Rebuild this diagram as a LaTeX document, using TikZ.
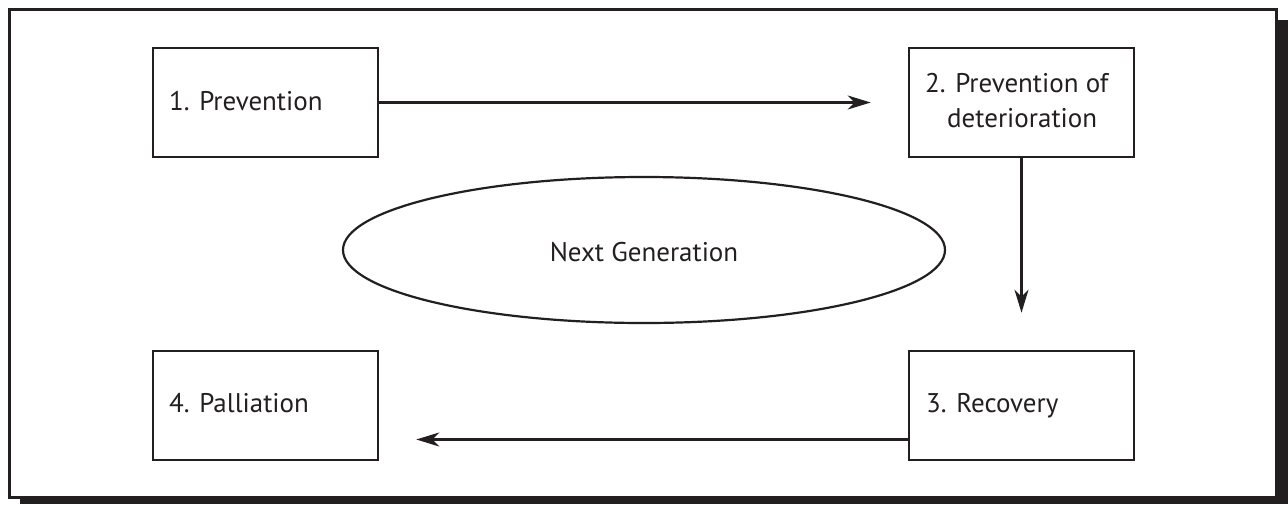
\documentclass[tikz,border=0pt]{standalone}
\usepackage{fontspec}
\setmainfont{PT Sans}
\usetikzlibrary{arrows.meta,shapes.geometric}
\definecolor{ink}{HTML}{231F20}
\tikzset{
  boxnode/.style={draw=ink,line width=2.6pt,minimum width=225pt,minimum height=109pt,inner sep=0pt,fill=white},
  lbl/.style={anchor=base west,inner sep=0pt,text=ink,font=\fontsize{27pt}{33pt}\selectfont},
  arr/.style={draw=ink,line width=2.2pt,-{Stealth[length=23pt,width=14pt,inset=7pt]},shorten >=37pt},
}
\begin{document}
\begin{tikzpicture}[x=1pt,y=-1pt]
\useasboundingbox (0,0) rectangle (1288,504);
% frame with shadow
\fill[ink] (20,20) rectangle (1288,504);
\draw[ink,line width=3pt,fill=white] (9.5,9.5) rectangle (1276.5,497);
% boxes
\node[boxnode] (b1) at (265.5,102.5) {};
\node[boxnode] (b2) at (1021.5,102.5) {};
\node[boxnode] (b3) at (1021.5,405.5) {};
\node[boxnode] (b4) at (265.5,405.5) {};
% labels
\node[lbl] (t1) at (169,110) {1. Prevention};
\node[lbl] (t2a) at (925,92) {2. Prevention of};
\node[lbl] (t2b) at (947,127) {deterioration};
\node[lbl] (t3) at (926,412) {3. Recovery};
\node[lbl] (t4) at (169,412) {4. Palliation};
% ellipse
\node[ellipse,draw=ink,line width=2.2pt,minimum width=602pt,minimum height=146pt,inner sep=0pt] (ng) at (644,250) {};
\node[lbl,anchor=base] (ngt) at (644,261) {Next Generation};
% arrows
\draw[arr] (b1.east) -- (b2.west);
\draw[arr] (b2.south) -- (b3.north);
\draw[arr] ([yshift=-34pt]b3.west) -- ([yshift=-34pt]b4.east);
\end{tikzpicture}
\end{document}
